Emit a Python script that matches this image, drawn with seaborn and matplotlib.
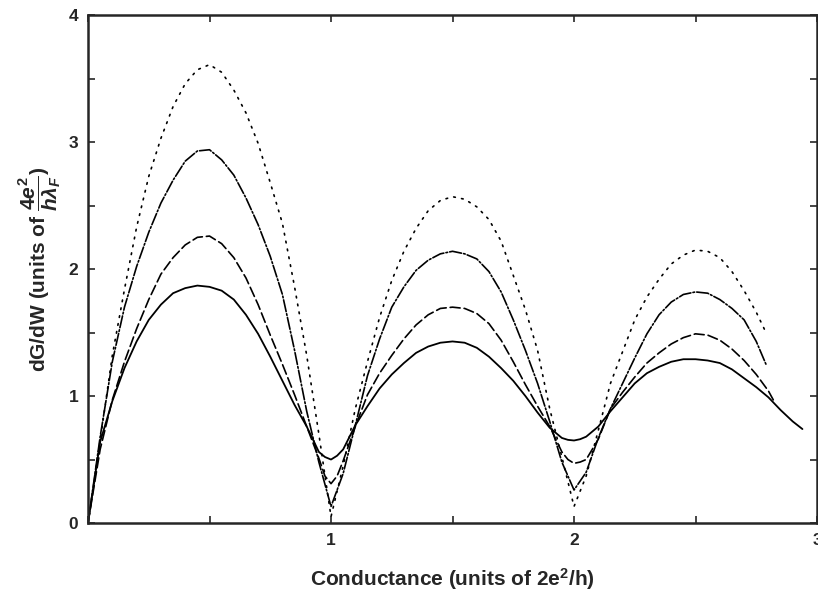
import pandas as pd
import seaborn as sns
import matplotlib
matplotlib.use("Agg")
import matplotlib.pyplot as plt
from matplotlib.ticker import MultipleLocator, FuncFormatter

# conductance grid (units of 2e^2/h)
x_grid = [0.00, 0.05, 0.10, 0.15, 0.20, 0.25, 0.30, 0.35, 0.40, 0.45,
          0.50, 0.55, 0.60, 0.65, 0.70, 0.75, 0.80, 0.85, 0.90, 0.95,
          1.00, 1.05, 1.10, 1.15, 1.20, 1.25, 1.30, 1.35, 1.40, 1.45,
          1.50, 1.55, 1.60, 1.65, 1.70, 1.75, 1.80, 1.85, 1.90, 1.95,
          2.00, 2.05, 2.10, 2.15, 2.20, 2.25, 2.30, 2.35, 2.40, 2.45,
          2.50, 2.55, 2.60, 2.65, 2.70, 2.75]

x_solid = x_grid + [2.80, 2.85, 2.90, 2.94, 0.975, 1.025, 1.975, 2.025]
y_solid = [0.00, 0.64, 0.96, 1.22, 1.43, 1.60, 1.72, 1.81, 1.85, 1.87,
           1.86, 1.83, 1.76, 1.64, 1.49, 1.31, 1.12, 0.93, 0.76, 0.56,
           0.50, 0.58, 0.77, 0.92, 1.06, 1.17, 1.26, 1.34, 1.39, 1.42,
           1.43, 1.42, 1.38, 1.31, 1.22, 1.12, 1.00, 0.87, 0.75, 0.67,
           0.65, 0.68, 0.76, 0.88, 0.99, 1.10, 1.18, 1.23, 1.27, 1.29,
           1.29, 1.28, 1.26, 1.21, 1.14, 1.07, 0.99, 0.89, 0.80, 0.74,
           0.52, 0.53, 0.655, 0.66]

x_dashed = x_grid + [2.80, 2.82, 0.975, 1.025, 1.975, 2.025]
y_dashed = [0.00, 0.58, 0.97, 1.27, 1.53, 1.76, 1.96, 2.09, 2.19, 2.25,
            2.26, 2.20, 2.09, 1.93, 1.72, 1.48, 1.25, 1.01, 0.76, 0.51,
            0.31, 0.49, 0.76, 1.01, 1.18, 1.32, 1.45, 1.56, 1.64, 1.69,
            1.70, 1.69, 1.65, 1.57, 1.44, 1.27, 1.09, 0.92, 0.76, 0.56,
            0.47, 0.50, 0.66, 0.90, 1.03, 1.15, 1.26, 1.34, 1.41, 1.46,
            1.49, 1.48, 1.44, 1.37, 1.28, 1.17, 1.04, 0.97,
            0.37, 0.37, 0.50, 0.48]

x_dashdot = x_grid + [2.79]
y_dashdot = [0.00, 0.68, 1.27, 1.70, 2.02, 2.29, 2.52, 2.70, 2.85, 2.93,
             2.94, 2.86, 2.74, 2.56, 2.35, 2.10, 1.80, 1.36, 0.88, 0.48,
             0.13, 0.39, 0.77, 1.16, 1.45, 1.70, 1.86, 1.99, 2.07, 2.12,
             2.14, 2.12, 2.08, 1.98, 1.82, 1.60, 1.36, 1.10, 0.80, 0.48,
             0.26, 0.40, 0.67, 0.90, 1.10, 1.30, 1.49, 1.64, 1.74, 1.80,
             1.82, 1.81, 1.76, 1.69, 1.60, 1.43, 1.25]

x_dotted = x_grid + [2.79]
y_dotted = [0.00, 0.65, 1.32, 1.84, 2.33, 2.73, 3.03, 3.28, 3.46, 3.57,
            3.61, 3.55, 3.41, 3.23, 2.99, 2.68, 2.36, 1.86, 1.32, 0.70,
            0.05, 0.45, 0.90, 1.27, 1.62, 1.91, 2.14, 2.32, 2.46, 2.54,
            2.57, 2.55, 2.49, 2.39, 2.22, 1.95, 1.68, 1.36, 0.90, 0.52,
            0.13, 0.37, 0.73, 1.10, 1.35, 1.60, 1.78, 1.92, 2.04, 2.11,
            2.15, 2.14, 2.09, 1.98, 1.83, 1.66, 1.50]

curves = [
    (x_solid, y_solid, "-", 1.3),
    (x_dashed, y_dashed, (0, (6, 2.4)), 1.2),
    (x_dashdot, y_dashdot, (0, (7.2, 1.3, 1, 1.3)), 1.2),
    (x_dotted, y_dotted, (0, (1, 3.8)), 1.2),
]

sns.set_style("ticks")
plt.rcParams["font.family"] = ["Liberation Sans", "DejaVu Sans"]
plt.rcParams["mathtext.fontset"] = "custom"
plt.rcParams["mathtext.rm"] = "Liberation Sans:bold"
plt.rcParams["mathtext.bf"] = "Liberation Sans:bold"
plt.rcParams["mathtext.it"] = "Liberation Sans:bold:italic"

fig = plt.figure(figsize=(8.18, 6.05), dpi=100)
ax = fig.add_axes([0.1076, 0.1355, 0.8912, 0.8395])

for xs, ys, ls, lw in curves:
    df = pd.DataFrame({"G": xs, "dGdW": ys}).sort_values("G")
    sns.lineplot(data=df, x="G", y="dGdW", ax=ax, color="black",
                 linestyle=ls, linewidth=lw, estimator=None, sort=False,
                 dash_capstyle="round")

ax.set_xlim(0, 3)
ax.set_ylim(0, 4)
ax.xaxis.set_major_locator(MultipleLocator(0.5))
ax.yaxis.set_major_locator(MultipleLocator(0.5))
ax.xaxis.set_major_formatter(FuncFormatter(
    lambda v, p: f"{int(round(v))}" if abs(v - round(v)) < 1e-6 and v > 0.1 else ""))
ax.yaxis.set_major_formatter(FuncFormatter(
    lambda v, p: f"{int(round(v))}" if abs(v - round(v)) < 1e-6 else ""))
ax.tick_params(direction="in", top=True, right=True, length=5, width=1.2,
               labelsize=12.5, pad=7)
for lab in ax.get_xticklabels() + ax.get_yticklabels():
    lab.set_fontweight("bold")
for sp in ax.spines.values():
    sp.set_linewidth(1.8)
    sp.set_visible(True)

ax.set_xlabel(r"Conductance (units of 2e$^{2}$/h)", fontsize=15,
              fontweight="bold", labelpad=13)
ax.set_ylabel(r"dG/dW (units of $\dfrac{4e^{2}}{h\lambda_{F}}$)", fontsize=15,
              fontweight="bold", labelpad=4)

fig.savefig("out.png", dpi=100)
